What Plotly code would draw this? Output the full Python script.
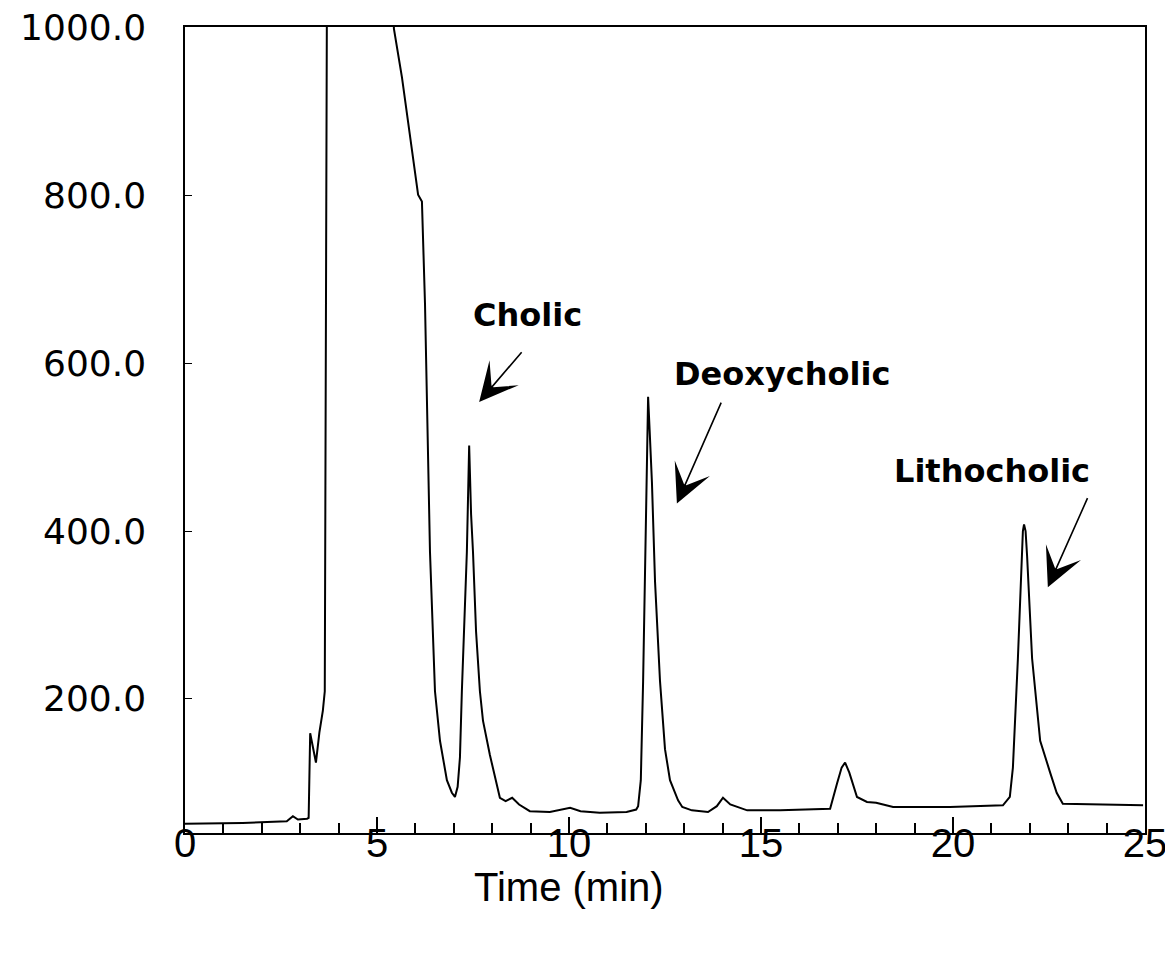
import plotly.graph_objects as go

# Chromatogram trace (time in min, detector response)
time_min = [0.0, 0.5, 1.0, 1.5, 2.0, 2.47, 2.65, 2.81, 2.94, 3.18, 3.22, 3.26, 3.31, 3.41,
            3.50, 3.54, 3.59, 3.64, 3.67, 3.70, 5.40, 5.44, 5.65, 5.94, 6.07, 6.17, 6.25,
            6.38, 6.51, 6.64, 6.82, 6.95, 7.03, 7.10, 7.16, 7.21, 7.29, 7.34, 7.40, 7.45,
            7.50, 7.58, 7.68, 7.76, 7.94, 8.12, 8.20, 8.35, 8.52, 8.70, 8.98, 9.50, 10.03,
            10.30, 10.80, 11.50, 11.75, 11.80, 11.87, 11.93, 11.98, 12.02, 12.06, 12.10,
            12.16, 12.24, 12.37, 12.50, 12.63, 12.84, 12.95, 13.20, 13.62, 13.85, 14.01,
            14.20, 14.64, 15.50, 16.50, 16.80, 16.98, 17.10, 17.19, 17.30, 17.50, 17.76,
            18.00, 18.44, 19.92, 21.30, 21.48, 21.56, 21.69, 21.78, 21.82, 21.85, 21.89,
            21.93, 22.06, 22.27, 22.40, 22.53, 22.70, 22.86, 24.95]
signal = [51, 51, 51.5, 52, 52.5, 53, 54, 60, 56, 57, 58, 159, 147, 124,
          160, 170, 186, 209, 600, 1100, 1100, 999, 941, 840, 801, 793, 671,
          375, 209, 150, 103, 88, 83, 95, 130, 209, 316, 375, 502, 420,
          375, 280, 209, 174, 133, 95, 82, 78, 82, 74, 66, 65, 70,
          66, 64, 65, 68, 72, 103, 221, 340, 458, 560, 520,
          458, 340, 221, 140, 103, 79, 71, 67, 65, 72, 82,
          74, 67, 67, 68, 69, 99, 118, 124, 112, 83, 77,
          76, 71, 71, 73, 83, 118, 248, 370, 400, 408, 400,
          370, 248, 150, 130, 112, 88, 75, 73]

# Peak labels: text position, arrow tip, arrow tail
peak_names = ["Cholic", "Deoxycholic", "Lithocholic"]
label_x = [8.93, 15.55, 21.02]
label_y = [658, 587, 472]
tip_x = [7.66, 12.81, 22.47]
tip_y = [554, 433, 333]
tail_x = [8.80, 13.98, 23.52]
tail_y = [615, 555, 441]

y_ticks = [200, 400, 600, 800, 1000]
x_ticks = [0, 5, 10, 15, 20, 25]

fig = go.Figure()
fig.add_trace(go.Scatter(x=time_min, y=signal, mode="lines",
                         line=dict(color="black", width=2), showlegend=False,
                         hoverinfo="skip"))

for name, lx, ly in zip(peak_names, label_x, label_y):
    fig.add_annotation(x=lx, y=ly, xref="x", yref="y", text=name, showarrow=False,
                       font=dict(family="DejaVu Sans", size=32, color="black", weight="bold"),
                       xanchor="center", yanchor="middle")

for tx, ty, ax, ay in zip(tip_x, tip_y, tail_x, tail_y):
    fig.add_annotation(x=tx, y=ty, xref="x", yref="y", ax=ax, ay=ay, axref="x", ayref="y",
                       text="", showarrow=True, arrowhead=3, arrowsize=4, arrowwidth=1.6,
                       arrowcolor="black", standoff=0, startstandoff=0)

fig.add_annotation(x=10, y=0, xref="x", yref="paper", yshift=-54, text="Time (min)",
                   showarrow=False,
                   font=dict(family="Liberation Sans", size=40, color="black"),
                   xanchor="center", yanchor="middle")

fig.update_layout(
    width=1173, height=960,
    margin=dict(l=177, r=36, t=19, b=135, autoexpand=False),
    paper_bgcolor="white", plot_bgcolor="white",
    xaxis=dict(range=[0, 25], tickvals=x_ticks, ticktext=[str(v) for v in x_ticks],
               ticks="inside", ticklen=16, tickwidth=1.5, tickcolor="black",
               minor=dict(dtick=1, tick0=0, ticks="inside", ticklen=10, tickwidth=1.5,
                          tickcolor="black"),
               showline=True, linecolor="black", linewidth=1.5, mirror=True,
               showgrid=False, zeroline=False, ticklabelstandoff=-26,
               ticklabeloverflow="allow", automargin=False,
               tickfont=dict(family="Liberation Sans", size=40, color="black")),
    yaxis=dict(range=[40, 1001], tickvals=y_ticks, ticktext=[f"{v:.1f}" for v in y_ticks],
               ticks="inside", ticklen=7, tickwidth=1.2, tickcolor="black",
               showline=True, linecolor="black", linewidth=1.5, mirror=True,
               showgrid=False, zeroline=False, ticklabelstandoff=30,
               ticklabeloverflow="allow", automargin=False,
               tickfont=dict(family="DejaVu Sans", size=36, color="black")),
)

fig.write_html("out.html")
